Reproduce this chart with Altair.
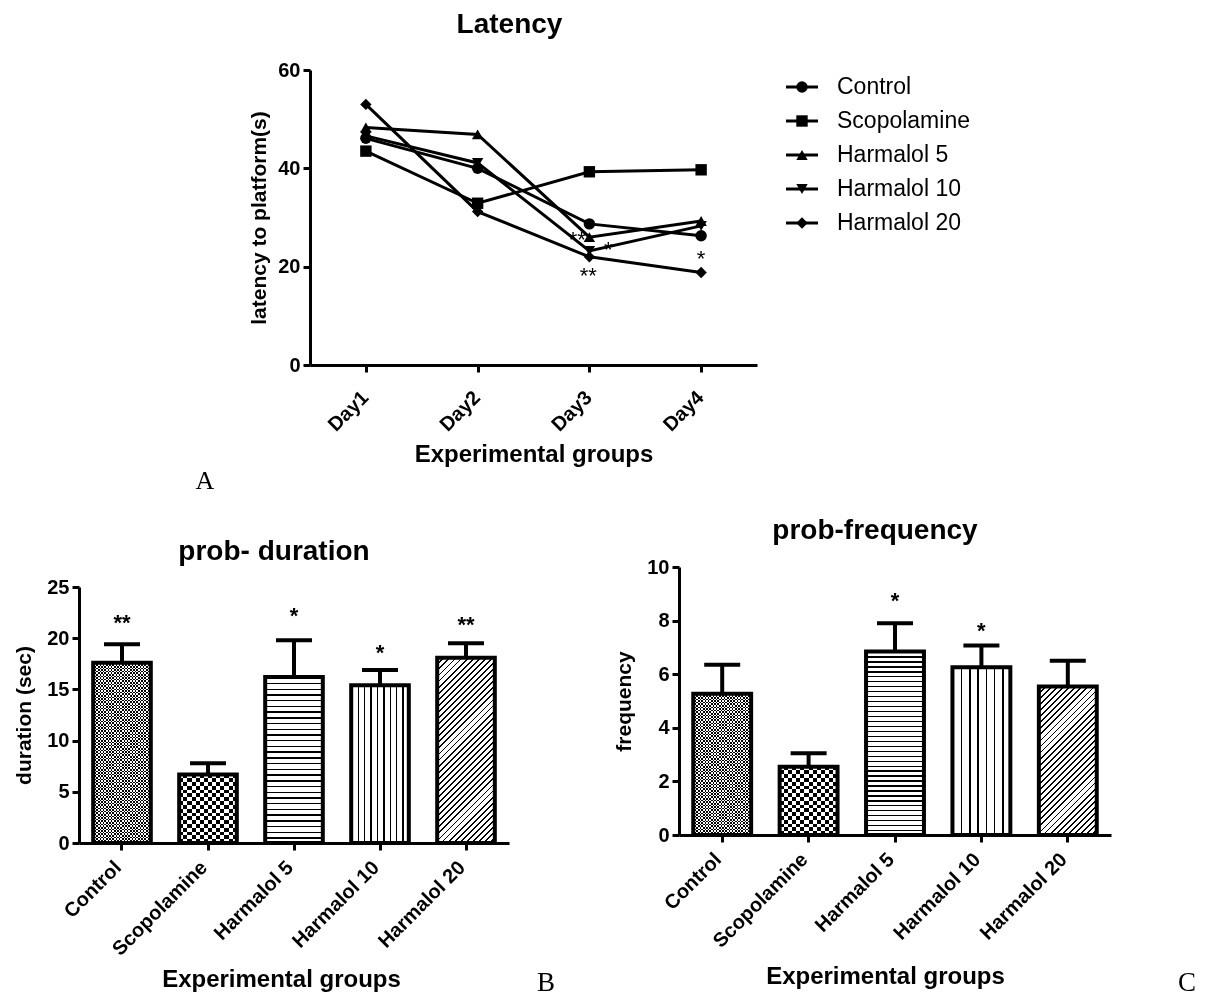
import math
import altair as alt
import pandas as pd

FONT = "Liberation Sans"
SERIF = "Liberation Serif"

# ---------------- data ----------------
days = ["Day1", "Day2", "Day3", "Day4"]
groups = ["Control", "Scopolamine", "Harmalol 5", "Harmalol 10", "Harmalol 20"]
shapes = ["circle", "square", "triangle-up", "triangle-down", "diamond"]

latency_control = [46.1, 40.0, 28.7, 26.3]
latency_scopolamine = [43.5, 32.9, 39.3, 39.7]
latency_harmalol5 = [48.3, 46.9, 26.0, 29.3]
latency_harmalol10 = [46.6, 41.1, 23.2, 28.3]
latency_harmalol20 = [53.0, 31.2, 22.0, 18.8]

latency_sig_text = ["**", "*", "**", "*"]
latency_sig_day = ["Day3", "Day3", "Day3", "Day4"]
latency_sig_y = [26.5, 24.5, 19.2, 22.6]

duration_mean = [17.6, 6.7, 16.2, 15.4, 18.1]
duration_sem_top = [19.4, 7.8, 19.8, 16.9, 19.5]
duration_sig_text = ["**", "", "*", "*", "**"]
duration_sig_y = [22.0, 0, 22.7, 19.0, 21.8]

frequency_mean = [5.27, 2.55, 6.85, 6.26, 5.54]
frequency_sem_top = [6.35, 3.05, 7.9, 7.07, 6.5]
frequency_sig_text = ["", "", "*", "*", ""]
frequency_sig_y = [0, 0, 8.9, 7.8, 0]

# ---------------- helpers ----------------
axis_common = dict(
    domainColor="black", domainWidth=3, tickColor="black", tickWidth=3, tickSize=7,
    labelColor="black", labelFont=FONT, labelFontSize=20, labelFontWeight="bold",
    titleColor="black", titleFont=FONT, titleFontWeight="bold", grid=False,
)


def stripes(n, frac, x2, y2, dark="black", light="white"):
    stops = []
    for i in range(n):
        a = i / n
        b = (i + frac) / n
        c = (i + 1) / n
        stops += [
            alt.GradientStop(offset=a, color=dark),
            alt.GradientStop(offset=b, color=dark),
            alt.GradientStop(offset=b, color=light),
            alt.GradientStop(offset=c, color=light),
        ]
    return alt.LinearGradient(gradient="linear", stops=stops, x1=0, y1=0, x2=x2, y2=y2)


one = pd.DataFrame({"p": [0]})


def pin(x, y):
    return alt.Chart(one).mark_text(text=".", fontSize=1, opacity=0).encode(
        x=alt.value(x), y=alt.value(y))


def letter(ch, x, y, size=27):
    return alt.Chart(one).mark_text(
        text=ch, font=SERIF, fontSize=size, align="center", baseline="alphabetic", color="black"
    ).encode(x=alt.value(x), y=alt.value(y))


# ---------------- panel A ----------------
AW, AH = 447, 295
rows = []
for g, vals in zip(groups, [latency_control, latency_scopolamine, latency_harmalol5,
                            latency_harmalol10, latency_harmalol20]):
    for d, v in zip(days, vals):
        rows.append({"group": g, "day": d, "value": v})
lat_df = pd.DataFrame(rows)

xA = alt.X("day:N", sort=days, scale=alt.Scale(type="point", padding=0.5),
           axis=alt.Axis(title="Experimental groups", labelAngle=-45, labelOffset=-8,
                         labelPadding=15, titleFontSize=24, titleX=AW / 2, titleY=96,
                         titleBaseline="alphabetic", **axis_common))
yA = alt.Y("value:Q", scale=alt.Scale(domain=[0, 60], nice=False),
           axis=alt.Axis(title="latency to platform(s)", values=[0, 20, 40, 60], titleFontSize=21,
                         titlePadding=8, labelPadding=3, **axis_common))
shape_enc = alt.Shape("group:N", sort=groups, scale=alt.Scale(domain=groups, range=shapes), legend=None)

lines = alt.Chart(lat_df).mark_line(color="black", strokeWidth=3).encode(x=xA, y=yA, detail="group:N")
points = alt.Chart(lat_df).mark_point(filled=True, color="black", size=130, opacity=1).encode(
    x=xA, y=yA, shape=shape_enc)

sigA_df = pd.DataFrame({"day": latency_sig_day, "value": latency_sig_y,
                        "sig": latency_sig_text, "idx": list(range(4))})
sig_dx = [-12, 19, -1, 0]
sigA = [
    alt.Chart(sigA_df).transform_filter(alt.datum.idx == i).mark_text(
        font=FONT, fontSize=22, color="black", baseline="alphabetic", dx=sig_dx[i], dy=12
    ).encode(x=xA, y=yA, text="sig:N")
    for i in range(4)
]

leg_df = pd.DataFrame({"group": groups})
yL = alt.Y("group:N", sort=groups,
           scale=alt.Scale(type="point", domain=groups, range=[17, 153], padding=0), axis=None)
leg_rule = alt.Chart(leg_df).mark_rule(color="black", strokeWidth=3).encode(
    x=alt.value(476), x2=alt.value(508), y=yL)
leg_pts = alt.Chart(leg_df).mark_point(filled=True, color="black", size=130, opacity=1).encode(
    x=alt.value(492), y=yL, shape=shape_enc)
leg_txt = alt.Chart(leg_df).mark_text(font=FONT, fontSize=23, align="left", baseline="middle",
                                      color="black").encode(x=alt.value(527), y=yL, text="group:N")

chartA = alt.layer(
    alt.layer(lines, points, *sigA, letter("A", -105, 419, 26),
              pin(0, -60), pin(-120, 0), pin(0, 427)),
    alt.layer(leg_rule, leg_pts, leg_txt),
).resolve_scale(y="independent").properties(
    width=AW, height=AH,
    title=alt.TitleParams("Latency", font=FONT, fontSize=28, fontWeight="bold", color="black",
                          anchor="middle", frame="group", offset=0, dx=-24, dy=52,
                          baseline="alphabetic"),
)

SPACER_W = 99
spacer = alt.layer(pin(0, 0), pin(SPACER_W, 0)).properties(width=SPACER_W, height=10)


# ---------------- bar panels ----------------
def bar_panel(means, tops, sig_text, sig_y, ymax, ticks, ytitle, W, H, top_gap, title, tdx, tdy,
              xtitle_x, xtitle_y, let, let_x, let_y, pins, patterns):
    df = pd.DataFrame({"group": groups, "mean": means, "top": tops, "sig": sig_text, "sig_y": sig_y})
    VH = H + top_gap
    xenc = alt.X("group:N", sort=groups, scale=alt.Scale(paddingInner=0.33, paddingOuter=0.165),
                 axis=alt.Axis(title="Experimental groups", labelAngle=-45, labelOffset=-11,
                               labelPadding=7, titleFontSize=24, titleX=xtitle_x, titleY=xtitle_y,
                               titleBaseline="alphabetic", **axis_common))

    def yenc(field):
        return alt.Y(field + ":Q", scale=alt.Scale(domain=[0, ymax], nice=False, range=[VH, top_gap]),
                     axis=alt.Axis(title=ytitle, values=ticks, titleFontSize=21, titlePadding=12,
                                   labelPadding=3, **axis_common))

    bw = W / 5 * 0.67
    layers = []
    for g, v, (kind, period, frac) in zip(groups, means, patterns):
        bh = v / ymax * H
        base = alt.Chart(df).transform_filter(alt.datum.group == g)
        enc = dict(x=xenc, y=yenc("mean"))
        if kind == "checker":
            hfill = stripes(max(1, round(bh / period)), 0.5, 0, 1)
            vfill = stripes(max(1, round(bw / period)), 0.5, 1, 0, dark="white",
                            light="rgba(255,255,255,0)")
            layers.append(base.mark_bar(fill=hfill, opacity=1).encode(**enc))
            layers.append(base.mark_bar(fill=vfill, opacity=1, blend="difference").encode(**enc))
        elif kind == "h":
            layers.append(base.mark_bar(fill=stripes(max(1, round(bh / period)), frac, 0, 1),
                                        opacity=1).encode(**enc))
        elif kind == "v":
            layers.append(base.mark_bar(fill=stripes(max(1, round(bw / period)), frac, 1, 0),
                                        opacity=1).encode(**enc))
        else:
            wp = bw / bh
            k = (wp + 1) / (wp ** 2 + 1)
            n = max(1, round((bw + bh) / (math.sqrt(2) * period)))
            layers.append(base.mark_bar(fill=stripes(n, frac, k * wp, k), opacity=1).encode(**enc))

    outline = alt.Chart(df).mark_bar(fillOpacity=0, stroke="black", strokeWidth=4, opacity=1).encode(
        x=xenc, y=yenc("mean"))
    stem = alt.Chart(df).mark_rule(color="black", strokeWidth=4).encode(
        x=xenc, y=yenc("mean"), y2="top:Q")
    cap = alt.Chart(df).mark_tick(color="black", thickness=4, size=36, opacity=1).encode(
        x=xenc, y=yenc("top"))
    sig = alt.Chart(df).transform_filter(alt.datum.sig != "").mark_text(
        font=FONT, fontSize=22, fontWeight="bold", color="black", baseline="alphabetic", dy=12
    ).encode(x=xenc, y=yenc("sig_y"), text="sig:N")

    return alt.layer(
        *layers, outline, stem, cap, sig, letter(let, let_x, let_y), *[pin(px, py) for px, py in pins]
    ).properties(
        width=W, height=VH,
        title=alt.TitleParams(title, font=FONT, fontSize=28, fontWeight="bold", color="black",
                              anchor="middle", frame="group", offset=0, dx=tdx, dy=tdy,
                              baseline="alphabetic"),
    )


patternsB = [("checker", 3.2, 0.5), ("checker", 8, 0.5), ("h", 5.7, 0.25), ("v", 6.5, 0.22),
             ("d", 4.3, 0.3)]
patternsC = [("checker", 3.2, 0.5), ("checker", 8, 0.5), ("h", 5.0, 0.25), ("v", 8.0, 0.2),
             ("d", 4.3, 0.3)]

chartB = bar_panel(duration_mean, duration_sem_top, duration_sig_text, duration_sig_y, 25,
                   [0, 5, 10, 15, 20, 25], "duration (sec)", 430, 256, 20, "prob- duration", -20, 79,
                   202, 143, "B", 467, 424, [(-70, -57), (482, -57)], patternsB)
chartC = bar_panel(frequency_mean, frequency_sem_top, frequency_sig_text, frequency_sig_y, 10,
                   [0, 2, 4, 6, 8, 10], "frequency", 432, 268, 0, "prob-frequency", -20, 58,
                   206, 148, "C", 508, 424, [(-108, -57)], patternsC)

chart = alt.vconcat(
    alt.hconcat(spacer, chartA, spacing=10),
    alt.hconcat(chartB, chartC, spacing=8),
    spacing=10,
).properties(padding=0, background="white").configure_view(stroke="transparent")

chart.save("out.html", embed_options={"renderer": "svg", "actions": False})
